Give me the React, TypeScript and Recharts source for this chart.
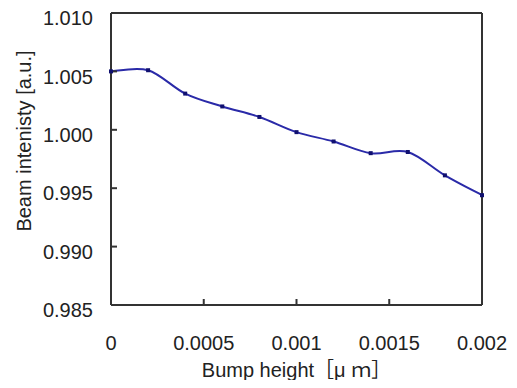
import React from 'react';
import { LineChart, Line, XAxis, YAxis, ReferenceLine, Label } from 'recharts';

const bumpHeight = [0, 0.0002, 0.0004, 0.0006, 0.0008, 0.001, 0.0012, 0.0014, 0.0016, 0.0018, 0.002];
const intensity = [1.005, 1.0051, 1.0031, 1.002, 1.0011, 0.9998, 0.999, 0.998, 0.9981, 0.9961, 0.9944];
const xTicks = [0, 0.0005, 0.001, 0.0015, 0.002];
const yTicks = [0.985, 0.99, 0.995, 1.0, 1.005, 1.01];

const data = bumpHeight.map((x, i) => ({ x, y: intensity[i] }));

const FONT = "'Liberation Sans', Arial, 'Noto Sans CJK JP', sans-serif";
const INK = '#222';

// Catmull-Rom style smoothing, like a spreadsheet "smoothed line"
function smoothCurve(context: any) {
  let pts: [number, number][] = [];
  return {
    areaStart() {},
    areaEnd() {},
    lineStart() {
      pts = [];
    },
    point(x: number, y: number) {
      pts.push([+x, +y]);
    },
    lineEnd() {
      if (!pts.length) return;
      context.moveTo(pts[0][0], pts[0][1]);
      for (let i = 0; i < pts.length - 1; i++) {
        const p0 = pts[Math.max(i - 1, 0)];
        const p1 = pts[i];
        const p2 = pts[i + 1];
        const p3 = pts[Math.min(i + 2, pts.length - 1)];
        context.bezierCurveTo(
          p1[0] + (p2[0] - p0[0]) / 6,
          p1[1] + (p2[1] - p0[1]) / 6,
          p2[0] - (p3[0] - p1[0]) / 6,
          p2[1] - (p3[1] - p1[1]) / 6,
          p2[0],
          p2[1]
        );
      }
    },
  };
}

const SquareDot = (props: any) => {
  const { cx, cy, index } = props;
  if (cx == null || cy == null) return null;
  return <rect key={`dot-${index}`} x={cx - 2} y={cy - 2} width={4} height={4} fill="#101070" />;
};

const YTitle = () => (
  <text
    x={24}
    y={141}
    transform="rotate(-90 24 141)"
    textAnchor="middle"
    dominantBaseline="central"
    fontSize={20}
    fill={INK}
    fontFamily={FONT}
  >
    Beam intenisty [a.u.]
  </text>
);

export default function App() {
  return (
    <div style={{ margin: -8, width: 517, height: 388, background: '#fff' }}>
      <LineChart
        width={517}
        height={388}
        data={data}
        margin={{ top: 13, right: 35, left: 0, bottom: 0 }}
        style={{ fontFamily: FONT }}
      >
        <XAxis
          dataKey="x"
          type="number"
          domain={[0, 0.002]}
          ticks={xTicks}
          tickFormatter={(v: number) => String(v)}
          height={83}
          tickSize={-6}
          tickMargin={37}
          interval={0}
          stroke="#333"
          strokeWidth={2}
          tick={{ fontSize: 20, fill: INK }}
        >
          <Label value="Bump height［μ ｍ］" position="insideBottom" offset={11} fontSize={20} fill={INK} />
        </XAxis>
        <YAxis
          dataKey="y"
          type="number"
          domain={[0.985, 1.01]}
          ticks={yTicks}
          tickFormatter={(v: number) => v.toFixed(3)}
          width={111}
          tickSize={-6}
          tickMargin={24}
          interval={0}
          allowDataOverflow
          stroke="#333"
          strokeWidth={2}
          tick={{ fontSize: 20, fill: INK, dy: 5 }}
        >
          <Label content={<YTitle />} />
        </YAxis>
        <ReferenceLine y={1.01} stroke="#333" strokeWidth={2} />
        <ReferenceLine x={0.002} stroke="#333" strokeWidth={2} />
        <Line
          dataKey="y"
          type={smoothCurve as any}
          stroke="#2a2aa8"
          strokeWidth={2}
          dot={SquareDot}
          activeDot={false}
          isAnimationActive={false}
        />
      </LineChart>
    </div>
  );
}
